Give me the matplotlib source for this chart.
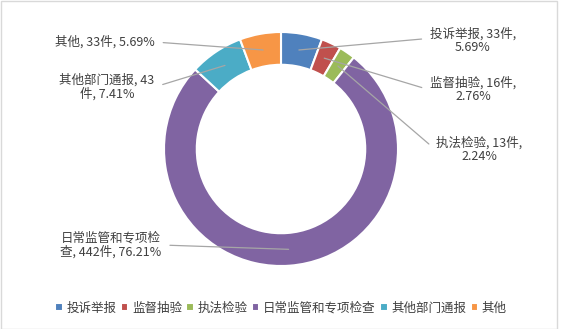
import numpy as np
import matplotlib
matplotlib.use('Agg')
import matplotlib.pyplot as plt
from matplotlib.patches import Rectangle

plt.rcParams['font.family'] = ['Noto Sans CJK SC', 'DejaVu Sans']

# 案件来源统计
categories = ['投诉举报', '监督抽验', '执法检验', '日常监管和专项检查', '其他部门通报', '其他']
counts = [33, 16, 13, 442, 43, 33]
percents = [5.69, 2.76, 2.24, 76.21, 7.41, 5.69]
labels = ['投诉举报, 33件,\n5.69%',
          '监督抽验, 16件,\n2.76%',
          '执法检验, 13件,\n2.24%',
          '日常监管和专项检\n查, 442件, 76.21%',
          '其他部门通报, 43\n件, 7.41%',
          '其他, 33件, 5.69%']
colors = ['#4F81BD', '#C0504D', '#9BBB59', '#8064A2', '#4BACC6', '#F79646']

W, H = 561, 329
fig = plt.figure(figsize=(W / 100, H / 100), dpi=100)
fig.patch.set_facecolor('white')
fig.add_artist(Rectangle((0.5 / W, 0.5 / H), 1 - 5 / W, 1 - 1.5 / H,
                         transform=fig.transFigure, fill=False,
                         edgecolor='#D9D9D9', linewidth=1))

# 圆环中心 (281, 149)，外半径 117 像素
cx, cy, R = 281, 149, 117
ax = fig.add_axes([(cx - R) / W, (H - cy - R) / H, 2 * R / W, 2 * R / H])
wedges, _ = ax.pie(counts, colors=colors, startangle=90, counterclock=False,
                   radius=1.0, wedgeprops=dict(width=0.28, edgecolor='white', linewidth=1.5))
ax.set_xlim(-1, 1)
ax.set_ylim(-1, 1)
ax.set_aspect('equal')
ax.axis('off')

# 标签位置（像素，自上而下）和引线连接位置
label_pos = [(473, 41), (473, 90), (479, 150), (111, 245), (107, 87), (105, 42)]
rel = [(0, 0.6), (0, 0.5), (0, 0.5), (1, 0.5), (1, 0.5), (1, 0.5)]

for w, lab, (px, py), rp in zip(wedges, labels, label_pos, rel):
    ang = np.deg2rad((w.theta1 + w.theta2) / 2)
    r = 0.86
    ax.annotate(lab, xy=(r * np.cos(ang), r * np.sin(ang)), xycoords='data',
                xytext=(px, H - py), textcoords='figure pixels',
                ha='center', va='center', fontsize=9, color='#404040',
                linespacing=1.05,
                arrowprops=dict(arrowstyle='-', color='#A6A6A6', lw=0.9,
                                shrinkA=4, shrinkB=0, relpos=rp))

fig.legend(wedges, categories, loc='center', bbox_to_anchor=(281 / W, 1 - 308 / H),
           ncol=6, frameon=False, fontsize=9, handlelength=0.6, handleheight=0.6,
           handletextpad=0.3, columnspacing=0.35, labelcolor='#404040')

fig.savefig('out.png', dpi=100)
